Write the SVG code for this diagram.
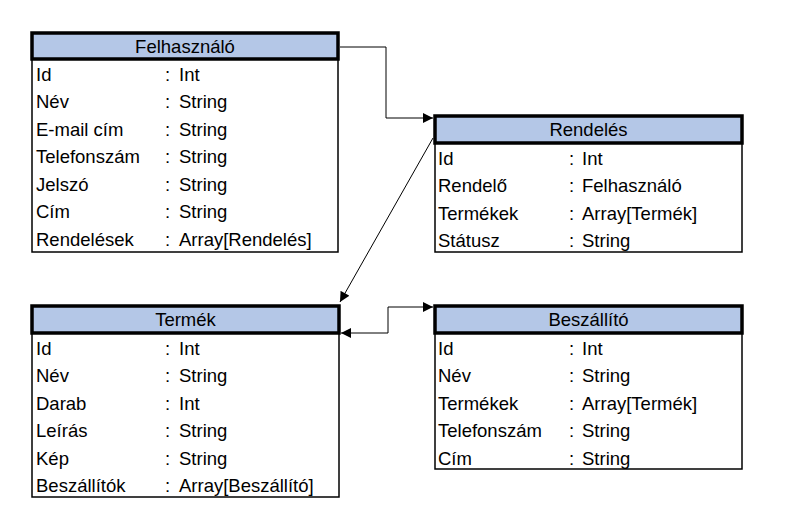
<svg xmlns="http://www.w3.org/2000/svg" width="789" height="526" viewBox="0 0 789 526">
<defs>
<style>
.hdr{fill:#b4c7e7;stroke:#000;stroke-width:3.5}
.body{fill:#fff;stroke:#000;stroke-width:1.5}
text{font-family:"Liberation Sans",Arial,sans-serif;font-size:18.5px;fill:#000}
.title{text-anchor:middle}
.conn{fill:none;stroke:#000;stroke-width:1}
</style>
<marker id="arr" viewBox="0 0 10 10" refX="10" refY="5" markerWidth="11" markerHeight="10" markerUnits="userSpaceOnUse" orient="auto-start-reverse">
<path d="M0,0 L10,5 L0,10 Z" fill="#000"/>
</marker>
</defs>
<rect width="789" height="526" fill="#fff"/>

<g id="felhasznalo">
<rect class="body" x="32" y="59" width="306" height="193"/>
<rect class="hdr" x="32" y="33" width="306" height="26"/>
<text class="title" x="185" y="53">Felhasználó</text>
<text x="36" y="80.5">Id</text><text x="165" y="80.5">:</text><text x="179" y="80.5">Int</text>
<text x="36" y="108">Név</text><text x="165" y="108">:</text><text x="179" y="108">String</text>
<text x="36" y="135.5">E-mail cím</text><text x="165" y="135.5">:</text><text x="179" y="135.5">String</text>
<text x="36" y="163">Telefonszám</text><text x="165" y="163">:</text><text x="179" y="163">String</text>
<text x="36" y="190.5">Jelszó</text><text x="165" y="190.5">:</text><text x="179" y="190.5">String</text>
<text x="36" y="218">Cím</text><text x="165" y="218">:</text><text x="179" y="218">String</text>
<text x="36" y="245.5">Rendelések</text><text x="165" y="245.5">:</text><text x="179" y="245.5">Array[Rendelés]</text>
</g>

<g id="rendeles">
<rect class="body" x="435" y="143" width="307" height="109"/>
<rect class="hdr" x="435" y="116" width="307" height="27"/>
<text class="title" x="588.5" y="136">Rendelés</text>
<text x="438" y="164.5">Id</text><text x="569" y="164.5">:</text><text x="582" y="164.5">Int</text>
<text x="438" y="192">Rendelő</text><text x="569" y="192">:</text><text x="582" y="192">Felhasználó</text>
<text x="438" y="219.5">Termékek</text><text x="569" y="219.5">:</text><text x="582" y="219.5">Array[Termék]</text>
<text x="438" y="247">Státusz</text><text x="569" y="247">:</text><text x="582" y="247">String</text>
</g>

<g id="termek">
<rect class="body" x="32" y="333" width="307" height="164"/>
<rect class="hdr" x="32" y="306" width="307" height="27"/>
<text class="title" x="185.5" y="326">Termék</text>
<text x="36" y="354.5">Id</text><text x="165" y="354.5">:</text><text x="179" y="354.5">Int</text>
<text x="36" y="382">Név</text><text x="165" y="382">:</text><text x="179" y="382">String</text>
<text x="36" y="409.5">Darab</text><text x="165" y="409.5">:</text><text x="179" y="409.5">Int</text>
<text x="36" y="437">Leírás</text><text x="165" y="437">:</text><text x="179" y="437">String</text>
<text x="36" y="464.5">Kép</text><text x="165" y="464.5">:</text><text x="179" y="464.5">String</text>
<text x="36" y="492">Beszállítók</text><text x="165" y="492">:</text><text x="179" y="492">Array[Beszállító]</text>
</g>

<g id="beszallito">
<rect class="body" x="435" y="333" width="307" height="136"/>
<rect class="hdr" x="435" y="306" width="307" height="27"/>
<text class="title" x="588.5" y="326">Beszállító</text>
<text x="438" y="354.5">Id</text><text x="569" y="354.5">:</text><text x="582" y="354.5">Int</text>
<text x="438" y="382">Név</text><text x="569" y="382">:</text><text x="582" y="382">String</text>
<text x="438" y="409.5">Termékek</text><text x="569" y="409.5">:</text><text x="582" y="409.5">Array[Termék]</text>
<text x="438" y="437">Telefonszám</text><text x="569" y="437">:</text><text x="582" y="437">String</text>
<text x="438" y="464.5">Cím</text><text x="569" y="464.5">:</text><text x="582" y="464.5">String</text>
</g>

<g id="connectors">
<path class="conn" d="M340,47 H386 V118 H433" marker-end="url(#arr)"/>
<path class="conn" d="M433,138 L340,302" marker-end="url(#arr)"/>
<path class="conn" d="M341,333 H388 V307 H433" marker-start="url(#arr)" marker-end="url(#arr)"/>
</g>
</svg>
